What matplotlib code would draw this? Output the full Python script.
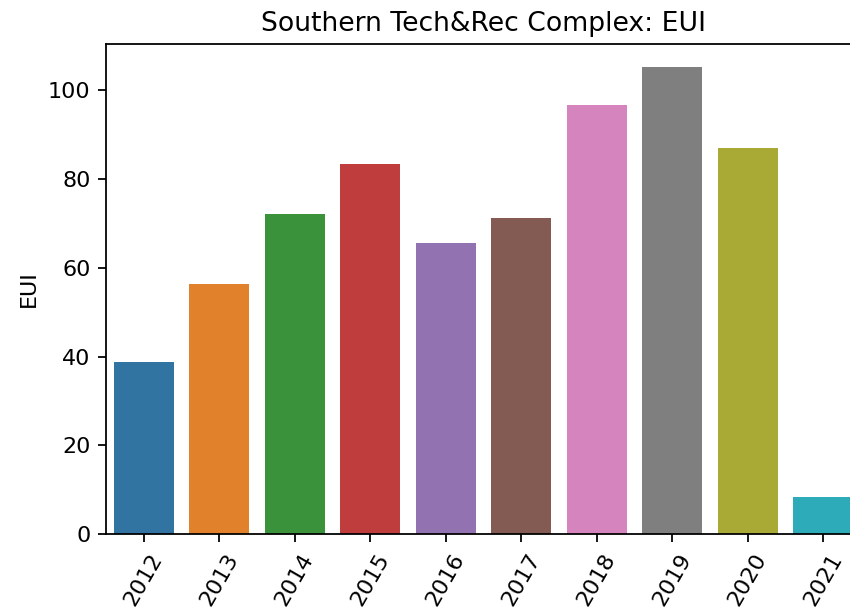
import matplotlib
matplotlib.use("Agg")
import matplotlib.pyplot as plt
import seaborn as sns

years = ["2012", "2013", "2014", "2015", "2016", "2017", "2018", "2019", "2020", "2021"]
eui = [38.7, 56.4, 72.1, 83.3, 65.6, 71.2, 96.6, 105.2, 87.0, 8.3]

colors = sns.color_palette("tab10", n_colors=len(years), desat=0.75)

fig = plt.figure(figsize=(850 / 160, 610 / 160), dpi=160)
# axes runs past the right edge, as in the cropped original
ax = fig.add_axes([106 / 850, 76 / 610, 755 / 850, 490 / 610])

pos = range(len(years))
ax.bar(pos, eui, width=0.8, color=colors)
ax.set_xlim(-0.5, len(years) - 0.5)
ax.set_ylim(0, max(eui) * 1.05)
ax.set_xticks(list(pos))
ax.set_xticklabels(years, rotation=60)
ax.set_ylabel("EUI")
ax.set_title("Southern Tech&Rec Complex: EUI")

fig.savefig("out.png", dpi=160)
